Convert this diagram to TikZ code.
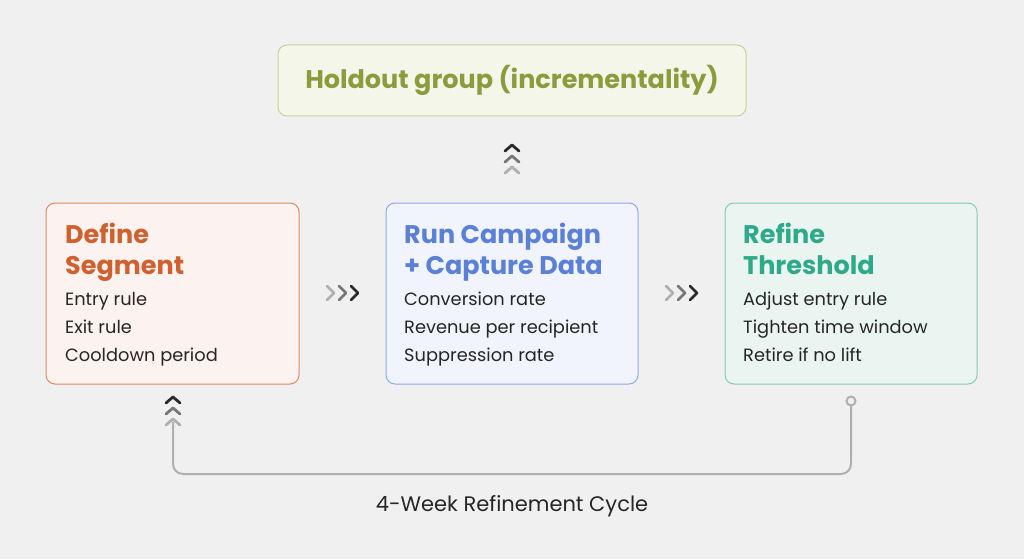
\documentclass[tikz,border=0pt]{standalone}
\usepackage{fontspec}
\setmainfont{Poppins}
\definecolor{bg}{HTML}{F0F0F0}
\definecolor{oT}{HTML}{D0602E}\definecolor{oB}{HTML}{E08A60}\definecolor{oF}{HTML}{FCF2EF}
\definecolor{bT}{HTML}{5B80D8}\definecolor{bB}{HTML}{8EA8E8}\definecolor{bF}{HTML}{F1F4FD}
\definecolor{gT}{HTML}{2EA98A}\definecolor{gB}{HTML}{80CDB8}\definecolor{gF}{HTML}{EAF5F2}
\definecolor{hT}{HTML}{8C9B3C}\definecolor{hB}{HTML}{C8D092}\definecolor{hF}{HTML}{F4F6E9}
\definecolor{txt}{HTML}{262626}
\definecolor{c1}{HTML}{B0B0B0}\definecolor{c2}{HTML}{777777}\definecolor{c3}{HTML}{2A2A2A}
\tikzset{
 card/.style={draw, line width=1pt, rounded corners=9pt, inner sep=0pt},
 ttl/.style={anchor=north west, font=\fontsize{25.5}{31}\selectfont\bfseries, align=left, inner sep=0pt},
 bod/.style={anchor=north west, font=\fontsize{17.8}{28}\selectfont, text=txt, align=left, inner sep=0pt},
 chev/.style={line width=2.8pt, line cap=round, line join=round},
}
\newcommand{\rchev}[2]{% x,y at first chevron
 \foreach \i/\c in {0/c1,1/c2,2/c3}{\draw[chev,\c] (#1+\i*12,#2-7) -- (#1+\i*12+7,#2) -- (#1+\i*12,#2+7);}}
\newcommand{\uchev}[2]{% x, y of top chevron tip
 \foreach \i/\c in {0/c3,1/c2,2/c1}{\draw[chev,\c] (#1-7,#2+\i*11+6) -- (#1,#2+\i*11) -- (#1+7,#2+\i*11+6);}}
\begin{document}
\begin{tikzpicture}[x=1pt,y=-1pt]
\fill[bg] (0,0) rectangle (1024,559);
\useasboundingbox (0,0) rectangle (1024,559);
\node[card, draw=hB, fill=hF, minimum width=468pt, minimum height=71pt] (hold) at (512,80.5) {};
\node[font=\fontsize{25.5}{31}\selectfont\bfseries, text=hT] (holdt) at (hold) {Holdout group (incrementality)};
\node[card, draw=oB, fill=oF, minimum width=253pt, minimum height=181pt] (def) at (172.5,293.5) {};
\node[card, draw=bB, fill=bF, minimum width=252pt, minimum height=181pt] (run) at (512,293.5) {};
\node[card, draw=gB, fill=gF, minimum width=252pt, minimum height=181pt] (ref) at (851,293.5) {};
\node[ttl, text=oT] (deft) at (65,223) {Define\\Segment};
\node[bod] (defb) at (65,292) {Entry rule\\Exit rule\\Cooldown period};
\node[ttl, text=bT] (runt) at (404,223) {Run Campaign\\+ Capture Data};
\node[bod] (runb) at (404,292) {Conversion rate\\Revenue per recipient\\Suppression rate};
\node[ttl, text=gT] (reft) at (743,223) {Refine\\Threshold};
\node[bod] (refb) at (743,292) {Adjust entry rule\\Tighten time window\\Retire if no lift};
\rchev{327}{293}
\rchev{666}{293}
\uchev{512}{145}
\uchev{173}{397}
\coordinate (ls) at (173,422);
\coordinate (re) at (851,405);
\draw[c1, line width=2pt, rounded corners=10pt] (ls) |- (851,474) -- (re);
\draw[c1, line width=2pt, fill=bg] (851,401) circle (4.5);
\node[font=\fontsize{21}{25}\selectfont, text=txt] (cyc) at (512,506) {4-Week Refinement Cycle};
\end{tikzpicture}
\end{document}
